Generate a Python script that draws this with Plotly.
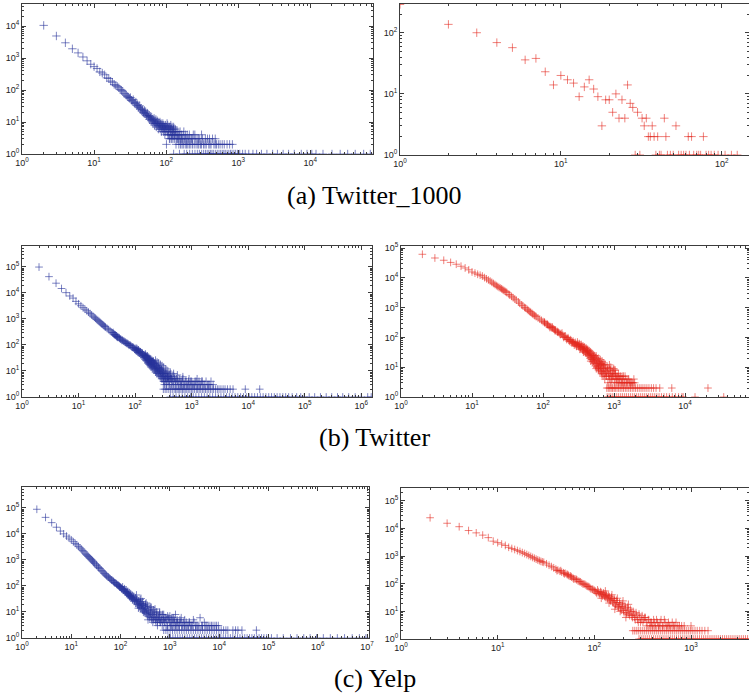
import plotly.graph_objects as go

W, H = 749, 695

# ---------------- (a) Twitter_1000 ----------------
A_LEFT = [[2,10500],[3,4900],[4,3000],[5,1950],[6,1450],[7,1080],[8,820],[9,640],[10,540],[11,470],
[12,370],[13,340],[14,300],[15,240],[16,230],[17,190],[18,175],[19,150],[20,140],[21,130],[22,118],
[23,105],[24,98],[25,92],[26,80],[27,75],[28,68],[29,62],[30,60],[31,55],[32,58],[33,48],[34,45],
[35,50],[36,40],[37,38],[38,42],[39,33],[40,35],[41,30],[42,28],[43,32],[44,25],[45,27],[46,22],
[47,24],[48,20],[49,19],[50,23],[51,18],[52,21],[53,16],[54,17],[55,19],[56,15],[57,14],[58,16],
[59,12],[60,15],[61,13],[62,11],[63,14],[64,10],[65,12],[66,9],[67,11],[68,13],[69,8],[70,10],
[71,9],[72,12],[73,7],[74,9],[75,11],[76,8],[77,10],[78,6],[79,9],[80,8],[81,7],[82,10],[83,6],
[84,8],[85,9],[86,5],[87,7],[88,8],[89,6],[90,9],[91,7],[92,5],[93,8],[94,6],[95,7],[96,4],[97,6],
[98,8],[99,5],[100,7],[102,6],[104,5],[105,8],[107,4],[108,6],[110,5],[112,7],[113,3],[115,5],
[117,4],[118,6],[120,4],[122,5],[124,3],[126,6],[128,4],[130,3],[132,5],[135,4],[140,3],[142,4],
[145,5],[148,3],[152,4],[155,3],[160,3],[163,4],[170,3],[176,5],[180,3],[188,3],[196,4],[205,3],
[215,3],[226,3],[238,4],[252,3],[268,3],[292,3],[320,3],[375,3],[440,3],
[103,9],[106,4],[109,7],[111,3],[114,6],[116,8],[119,3],[121,7],[123,4],[125,5],[127,7],[131,4],
[134,6],[138,5],[144,3],[150,4],[156,5],[165,3],[172,4],[185,4],[195,3],[210,4],[230,3],[250,4],
[280,3],[310,4],[350,3],[400,3],[480,3]]
A_LEFT_TWOS = [101,137,150,158,166,173,184,192,200,210,220,232,245,260,275,284,300,310,330,345,
360,390,405,420,460,480,500,530,560,600,640,700,760,830]
A_LEFT_ONES = [127,153,178,193,212,231,251,271,289,311,331,351,371,391,411,431,451,481,511,541,
571,601,631,661,701,741,781,821,871,921,981,1050,1150,1250,1400,1600,1800,2100,2500,3000,3500,
4200,5000,6000,7500,9000,10500,12000,15000,20000,26000,33000,42000,55000,68000]

A_RIGHT = [[1,290],[2,137],[3,100],[4,69],[5,57],[6,36],[7,38],[8,23],[9,14],[10,20],[11,17],
[12,15],[13,9],[14,13],[15,17],[16,12],[17,9],[18,3],[19,8],[20,8],[21,5],[22,10],[23,4],[24,8],
[25,4],[26,14],[27,7],[28,6],[30,5],[32,4],[33,3],[34,4],[35,2],[36,2],[37,3],[38,2],[40,2],
[44,4],[45,2],[52,3],[62,2],[65,2],[77,2]]
A_RIGHT_ONES = [29,31,39,41,42,46,48,50,54,56,58,60,63,67,70,72,74,80,83,86,90,95,105,115,125]

# ---------------- (b) Twitter ----------------
B_LEFT = [[2,98000],[3,42000],[4,23500],[5,14700],[6,10200],[7,7600],[8,6300],[9,4700],[10,3800],
[11,3200],[12,2700],[13,2350],[14,2050],[15,1800],[16,1600],[17,1420],[18,1270],[19,1150],[20,1050],
[21,950],[22,870],[23,800],[24,740],[25,680],[26,630],[27,590],[28,550],[29,510],[30,480],[32,430],
[34,390],[36,350],[38,315],[40,290],[42,265],[44,245],[46,225],[48,210],[50,200],[53,180],[56,165],
[60,152],[64,138],[68,126],[72,115],[76,106],[80,99],[85,91],[90,83],[95,77],[100,71],
[41,300],[43,250],[45,238],[47,212],[49,196],[52,190],[55,168],[58,150],[62,140],[66,128],[70,116],
[74,112],[78,97],[83,96],[88,82],[93,81],[98,68],
[102,62],[104,75],[106,58],[108,66],[110,60],[112,52],[114,64],[116,50],[118,57],[120,48],[123,55],
[126,42],[129,50],[132,40],[135,46],[138,36],[141,42],[144,33],[147,39],[150,28],[153,36],[156,25],
[159,32],[162,24],[165,30],[168,20],[171,27],[174,22],[177,18],[180,25],[184,16],[188,21],[192,14],
[196,19],[200,15],[205,22],[210,12],[215,17],[220,11],[225,15],[230,9],[236,13],[242,8],[248,12],
[255,10],[262,7],[270,11],[278,6],[286,9],[295,5],[305,8],[310,10],[315,6],[325,4],[330,3],[335,7],
[345,5],[350,9],[360,3],[370,4],[375,6],[390,4],[400,7],[405,3],[420,5],[440,3],[460,4],[480,3],
[500,5],[530,3],[560,4],[590,3],[620,4],[660,3],[700,5],[750,3],[800,4],[850,3],[900,3],[960,4],
[1020,3],[1100,3],[1200,4],[1300,3],[1450,3],[1600,3],[1800,4],[2000,3],[2200,4],
[152,45],[166,38],[182,30],[198,26],[218,20],[240,16],[265,14],[290,12],[320,8],[380,6],[440,5],
[520,4],[650,4],[900,5],[1150,4],[1500,4],
[151,33],[154,40],[157,30],[161,36],[164,27],[167,33],[170,22],[173,31],[176,26],[179,20],[183,28],
[186,18],[190,24],[194,17],[197,22],[202,13],[207,18],[212,24],[217,14],[222,19],[228,12],[233,17],
[239,10],[245,14],[251,9],[258,13],[264,8],[271,12],[275,7],[282,10],[288,6],[293,11],[300,7],
[308,5],[313,9],[318,4],[327,6],[338,8],[342,4],[353,6],[364,5],[367,8],[383,5],[395,6],[410,4],
[415,7],[430,5],[450,6],[470,4],[490,6],[510,4],[540,5],[570,4],[600,5],[640,3],[680,4],[720,3],
[770,4],[820,3],[880,4],[940,3],[1000,4],[1060,3],[1150,3],[1250,3],[1350,4],[1400,3],[1550,4],
[1700,3],[1900,3],[2100,3],[2400,3],[1250,5],[700,6],[560,7],[480,8],[420,9],[380,10],[350,12],
[320,14],[300,16],[280,18],[260,20],[245,22],[230,26],[108,72],[115,64],[125,54],[135,48],[145,40],
[160,36],[175,30],[190,26],[205,24],[215,20]]
B_LEFT_TWOS = [316,340,365,395,425,455,490,520,550,580,615,650,690,730,770,820,870,930,990,1050,
1120,1210,1280,1360,1450,1550,1650,1760,1880,2010,2150,2300,2450,2650,2850,3050,3300,3600,3900,
4300,4800,5400,8900,16000]
B_LEFT_ONES = [420,470,530,600,680,760,850,950,1070,1190,1340,1500,1680,1880,2100,2350,2650,2950,
3300,3700,4150,4650,5200,5850,6550,7350,8250,9250,10400,11600,13000,14600,16400,18400,20600,23100,
25900,29000,32500,36500,41000,46000,52000,60000,72000,85000,98000,120000,150000,190000,240000,
300000,380000,470000,600000,780000,1000000,1300000,1500000]

B_RIGHT = [[2,62000],[3,46500],[4,39000],[5,33000],[6,28700],[7,24600],[8,21500],[9,18600],
[10,15800],[11,14500],[12,13200],[13,12300],[14,11500],[15,10200],[16,9300],[17,8500],[18,7800],
[19,7100],[20,6500],[21,6000],[22,5500],[23,5150],[24,4800],[25,4550],[26,4300],[27,4050],[28,3800],
[29,3600],[30,3400],[31,3200],[33,2800],[34,2650],[36,2400],[38,2150],[40,1950],[42,1800],[45,1550],
[47,1400],[50,1230],[52,1150],[55,1020],[57,960],[60,870],[62,800],[65,740],[67,700],[70,645],
[72,600],[75,560],[77,530],[80,500],[85,450],[90,410],[95,375],[100,340],[105,310],[110,290],
[115,265],[120,250],[125,232],[130,220],[135,205],[140,195],[145,182],[150,175],[158,160],[165,148],
[172,138],[180,130],[190,118],[200,107],[210,100],[220,91],[230,85],[240,79],[250,73],[260,69],
[270,66],[280,62],[290,57],[300,55],
[105,330],[115,280],[125,215],[135,225],[148,165],[160,150],[175,125],[185,140],[195,100],[205,112],
[215,85],[225,98],[235,74],[245,84],[255,64],[265,75],[275,55],[285,68],[295,50],
[310,60],[320,48],[330,55],[340,44],[350,50],[360,38],[370,46],[380,35],[390,42],[400,30],[410,38],
[420,26],[430,34],[440,24],[450,30],[460,20],[470,28],[480,18],[490,25],[500,15],[510,22],[520,13],
[530,19],[545,11],[560,17],[575,10],[590,14],[605,8],[620,12],[635,7],[650,11],[665,6],[680,9],
[700,5],[720,8],[740,4],[760,7],[780,5],[800,10],[820,3],[840,6],[860,4],[880,8],[900,3],[930,5],
[960,4],[990,9],[1020,3],[1050,6],[1080,4],[1110,5],[1150,3],[1190,4],[1230,5],[1280,3],[1330,4],
[1380,3],[1430,5],[1500,3],[1570,4],[1650,3],[1750,3],[1850,3],[1950,3],
[330,40],[370,32],[420,36],[470,16],[520,24],[560,9],[610,16],[660,13],[720,12],[790,7],[860,12],
[940,6],[1040,8],[1150,6],[1300,5],
[305,70],[315,52],[325,62],[335,47],[345,58],[355,42],[365,52],[375,38],[385,48],[395,33],[405,44],
[415,30],[425,40],[435,27],[445,36],[455,24],[465,33],[475,21],[485,30],[495,18],[505,27],[515,16],
[525,24],[535,14],[550,21],[565,13],[580,19],[595,11],[610,9],[625,15],[640,8],[655,13],[670,7],
[685,12],[695,6],[710,10],[730,6],[750,9],[770,5],[810,8],[830,5],[850,9],[870,5],[890,6],[915,4],
[945,7],[975,5],[1005,6],[1035,4],[1065,5],[1095,3],[1130,4],[1170,5],[1210,3],[1260,4],[1310,3],
[1360,5],[1410,3],[1470,4],[1540,3],[1610,4],[1700,3],[1800,3],[1900,4],[720,14],[680,16],[640,18],
[600,20],[560,24],[600,10],[750,12],[900,10],[1000,8]]
B_RIGHT_TWOS = [790,830,870,910,950,1000,1040,1100,1160,1220,1290,1360,1440,1520,1610,1700,1800,
1900,2010,2130,2260,2400,2550,2720,2900,3100,3350,3600,3900,4400,6500,21000]
B_RIGHT_ONES = [800,850,900,960,1020,1090,1160,1240,1320,1410,1500,1600,1710,1830,1950,2080,2220,
2370,2530,2700,2880,3070,3280,3500,3740,4000,4300,4650,5050,5500,6000,6600,7300,8100,9000,9400,
13800,35000]

# ---------------- (c) Yelp ----------------
C_LEFT = [[2,88000],[3,43000],[4,27000],[5,18000],[6,12800],[7,10000],[8,8200],[9,6900],[10,5900],
[11,5000],[12,4300],[13,3800],[14,3300],[15,2900],[16,2600],[17,2300],[18,2050],[19,1800],[20,1600],
[21,1480],[22,1350],[23,1250],[24,1150],[25,1070],[26,1000],[27,920],[28,850],[29,780],[30,720],
[32,650],[33,600],[35,540],[36,500],[38,470],[40,410],[42,380],[44,345],[46,310],[48,290],[50,265],
[52,245],[55,225],[57,215],[60,199],[62,185],[65,170],[67,165],[70,156],[72,145],[75,135],[77,130],
[80,127],[83,118],[85,112],[88,108],[90,105],[93,100],[95,95],[97,92],[100,89],
[105,80],[110,92],[115,70],[120,78],[125,62],[130,70],[135,55],[140,62],[145,48],[150,55],[155,42],
[160,50],[166,38],[172,44],[178,33],[185,40],[192,28],[200,35],[208,25],[210,45],[216,30],[225,20],
[230,14],[234,27],[243,18],[252,24],[260,33],[262,15],[272,21],[283,13],[290,10],[295,19],[307,11],
[320,16],[330,22],[333,9],[347,14],[360,5],[362,8],[378,12],[395,7],[400,16],[413,11],[432,6],
[450,4],[452,10],[473,5],[495,9],[500,13],[520,4],[545,8],[560,3],[570,5],[600,7],[620,10],[630,4],
[660,6],[700,3],[705,8],[740,5],[780,4],[820,6],[870,3],[920,5],[980,4],[1040,3],[1100,5],[1170,3],
[1250,4],[1340,3],[1440,4],[1550,3],[1680,4],[1820,3],[1980,3],[2150,4],[2350,3],[2600,3],[2900,3],
[3300,3],[3700,3],[4100,6],[4600,3],[5200,3],[6000,3],[7000,3],[8200,3],[9600,3],
[1000,7],[1200,6],[1300,8],[1400,5],[1700,6],[2000,5],[2500,4],[3000,5],
[102,85],[107,75],[112,68],[118,72],[122,60],[128,58],[133,52],[138,50],[143,45],[148,44],[153,38],
[158,40],[163,34],[169,36],[175,30],[181,34],[188,26],[195,30],[203,22],[212,28],[220,19],[228,24],
[238,16],[248,21],[256,14],[266,18],[276,12],[288,17],[300,10],[312,14],[325,9],[340,12],[355,7],
[370,10],[388,6],[405,9],[422,5],[440,8],[462,6],[485,7],[510,5],[535,6],[555,4],[585,6],[615,5],
[645,4],[680,5],[720,4],[760,6],[800,4],[850,5],[900,3],[950,6],[1020,4],[1080,3],[1150,4],[1220,5],
[1300,3],[1380,4],[1480,3],[1600,4],[1750,3],[1900,4],[2050,3],[2250,3],[2450,4],[2750,3],[3100,4],
[3500,3],[3900,3],[4400,3],[5000,4],[5600,3],[6500,3],[7500,3],[8800,3],[250,30],[280,25],[320,20],
[350,18],[420,15],[470,12],[540,10],[620,9],[750,8],[900,7],[1100,6],[1600,5]]
C_LEFT_TWOS = [750,830,910,1010,1130,1260,1400,1560,1740,1940,2160,2400,2680,2990,3330,3710,4140,
4610,5140,5730,6390,7120,7940,8850,9860,11000,12300,13700,15000,19000,21500,24000,29000,57000]
C_LEFT_ONES = [920,1030,1150,1290,1440,1610,1800,2010,2250,2520,2820,3150,3520,3940,4400,4930,5510,
6160,6890,7710,8620,9640,10800,12100,13500,15100,16900,18900,21100,23600,26400,29500,33000,36900,
41300,46200,51700,57800,64600,72300,80900,92000,115000,150000,200000,280000,380000,520000,700000,
950000,1300000,1800000,2500000,3500000,5000000,7000000,9500000]

C_RIGHT = [[2,24700],[3,15600],[4,11700],[5,8500],[6,7000],[7,5800],[8,4700],[9,3500],[10,3100],
[11,2750],[12,2450],[13,2100],[14,1900],[15,1750],[16,1600],[17,1480],[18,1350],[19,1250],[20,1150],
[21,1060],[22,980],[23,900],[24,840],[25,780],[26,730],[27,690],[28,650],[29,620],[30,600],[32,530],
[34,470],[36,420],[38,380],[40,340],[42,310],[44,285],[46,265],[48,250],[50,240],[52,220],[54,200],
[56,188],[58,175],[60,165],[63,150],[66,138],[70,120],[74,108],[78,98],[82,88],[86,80],[90,72],
[95,64],[100,58],
[41,300],[45,300],[49,230],[53,215],[57,190],[61,150],[65,145],[68,125],[72,118],[76,100],[80,95],
[84,82],[88,78],[92,66],[97,62],
[104,50],[108,60],[112,45],[116,52],[120,40],[124,47],[128,35],[132,42],[136,30],[140,38],[145,26],
[150,33],[155,22],[160,29],[165,18],[170,25],[176,15],[182,21],[188,13],[194,19],[200,11],[207,16],
[214,9],[221,14],[228,8],[236,12],[244,7],[252,10],[260,6],[270,9],[280,5],[290,8],[300,4],[312,7],
[325,5],[338,6],[352,3],[366,5],[380,4],[395,3],[410,5],[430,3],[450,4],[470,3],[490,5],[515,3],
[540,4],[570,3],[600,3],[640,4],[680,3],[730,3],[800,3],
[118,30],[130,55],[142,20],[152,40],[163,12],[173,30],[185,10],[198,24],[212,6],[225,18],
[102,55],[106,45],[110,52],[114,40],[118,48],[122,36],[126,43],[130,32],[134,38],[138,28],[143,34],
[147,24],[152,29],[157,20],[162,25],[167,16],[172,21],[178,14],[184,18],[190,11],[196,15],[203,9],
[210,13],[217,8],[224,11],[232,7],[240,10],[248,6],[256,8],[265,5],[275,7],[285,4],[295,6],[306,5],
[318,4],[330,6],[345,4],[360,5],[375,3],[390,4],[405,3],[420,4],[440,5],[460,3],[480,4],[505,3],
[530,5],[555,3],[585,4],[620,3],[660,3],[700,4],[760,3],[850,3],[1000,3]]
C_RIGHT_TWOS = [250,262,275,288,302,317,332,348,365,383,402,421,442,463,486,510,535,561,588,617,647,
679,712,747,783,822,862,904,948,995,1045,1100,1160,1230,1300,1390,1500]
C_RIGHT_ONES = [290,305,320,336,353,371,390,410,431,453,476,500,525,552,580,610,641,674,708,744,782,
822,864,908,954,1003,1054,1108,1165,1224,1287,1352,1421,1494,1570,1650,1734,1823,1916,2014,2117,
2225,2338,2458,2583,2715,2854,3000,3153,3314,3483,3661,3848,4045]

CAPTIONS = ["(a) Twitter_1000", "(b) Twitter", "(c) Yelp"]

BLUE = "rgba(40,52,155,0.6)"
RED = "rgba(228,38,28,0.58)"

# panel layout: data, twos, ones, colour, pixel box (x0,x1,y0,y1), log ranges, tick exponents, marker size
PANELS = [
    (A_LEFT, A_LEFT_TWOS, A_LEFT_ONES, BLUE, (22, 373, 4, 154), (0, 4.87), (0, 4.69), 4, 4, 6),
    (A_RIGHT, [], A_RIGHT_ONES, RED, (400, 749, 4, 155), (0, 2.17), (0, 2.47), 2, 2, 6),
    (B_LEFT, B_LEFT_TWOS, B_LEFT_ONES, BLUE, (22, 372, 246, 397), (0, 6.19), (0, 5.8), 6, 5, 5.5),
    (B_RIGHT, B_RIGHT_TWOS, B_RIGHT_ONES, RED, (401, 749, 246, 397), (0, 4.9), (0, 5.07), 4, 5, 5.5),
    (C_LEFT, C_LEFT_TWOS, C_LEFT_ONES, BLUE, (22, 369, 487, 638), (0, 7.04), (0, 5.8), 7, 5, 5.5),
    (C_RIGHT, C_RIGHT_TWOS, C_RIGHT_ONES, RED, (401, 749, 488, 639), (0, 3.6), (0, 5.47), 3, 5, 5.5),
]
CAPTION_Y = [196, 437, 678]

fig = go.Figure()
layout = dict(width=W, height=H, margin=dict(l=0, r=0, t=0, b=0),
              paper_bgcolor="white", plot_bgcolor="white", showlegend=False)

AX = "#3c3c3c"
def axis_style(rng, nmax):
    major = [10 ** k for k in range(0, nmax + 1)]
    minor = [m * 10 ** k for k in range(0, nmax + 1) for m in range(2, 10)]
    return dict(type="log", range=list(rng), showline=True, linecolor=AX, linewidth=1,
                mirror="ticks", ticks="inside", ticklen=4, tickwidth=1, tickcolor=AX,
                showgrid=False, zeroline=False, automargin=False, fixedrange=True,
                tickmode="array", tickvals=major,
                ticktext=["10<sup>%d</sup>" % k for k in range(0, nmax + 1)],
                tickfont=dict(family="Liberation Sans, Arial, sans-serif", size=9, color="#222"),
                minor=dict(ticks="inside", ticklen=2, tickwidth=1, tickcolor=AX,
                           tickmode="array", tickvals=minor, showgrid=False))

for i, (pts, twos, ones, col, box, xr, yr, nx, ny, msize) in enumerate(PANELS, start=1):
    xs = [p[0] for p in pts] + list(twos) + list(ones)
    ys = [p[1] for p in pts] + [2] * len(twos) + [1] * len(ones)
    sfx = "" if i == 1 else str(i)
    fig.add_trace(go.Scatter(x=xs, y=ys, mode="markers", xaxis="x" + sfx, yaxis="y" + sfx,
                             marker=dict(symbol="cross-thin", size=msize,
                                         line=dict(width=1, color=col)),
                             hoverinfo="skip"))
    x0, x1, y0, y1 = box
    xa = axis_style(xr, nx)
    xa.update(domain=[x0 / W, min(x1 / W, 1.0)], anchor="y" + sfx)
    ya = axis_style(yr, ny)
    ya.update(domain=[1 - y1 / H, 1 - y0 / H], anchor="x" + sfx)
    layout["xaxis" + sfx] = xa
    layout["yaxis" + sfx] = ya

annotations = []
for cap, cy in zip(CAPTIONS, CAPTION_Y):
    annotations.append(dict(text=cap, x=0.5, y=1 - cy / H, xref="paper", yref="paper",
                            xanchor="center", yanchor="middle", showarrow=False,
                            font=dict(family="Liberation Serif, Times New Roman, serif",
                                      size=26, color="black")))
layout["annotations"] = annotations
fig.update_layout(**layout)
fig.write_html("out.html", config={"displayModeBar": False, "staticPlot": True},
               post_script="document.body.style.margin='0px';document.body.style.overflow='hidden';")
